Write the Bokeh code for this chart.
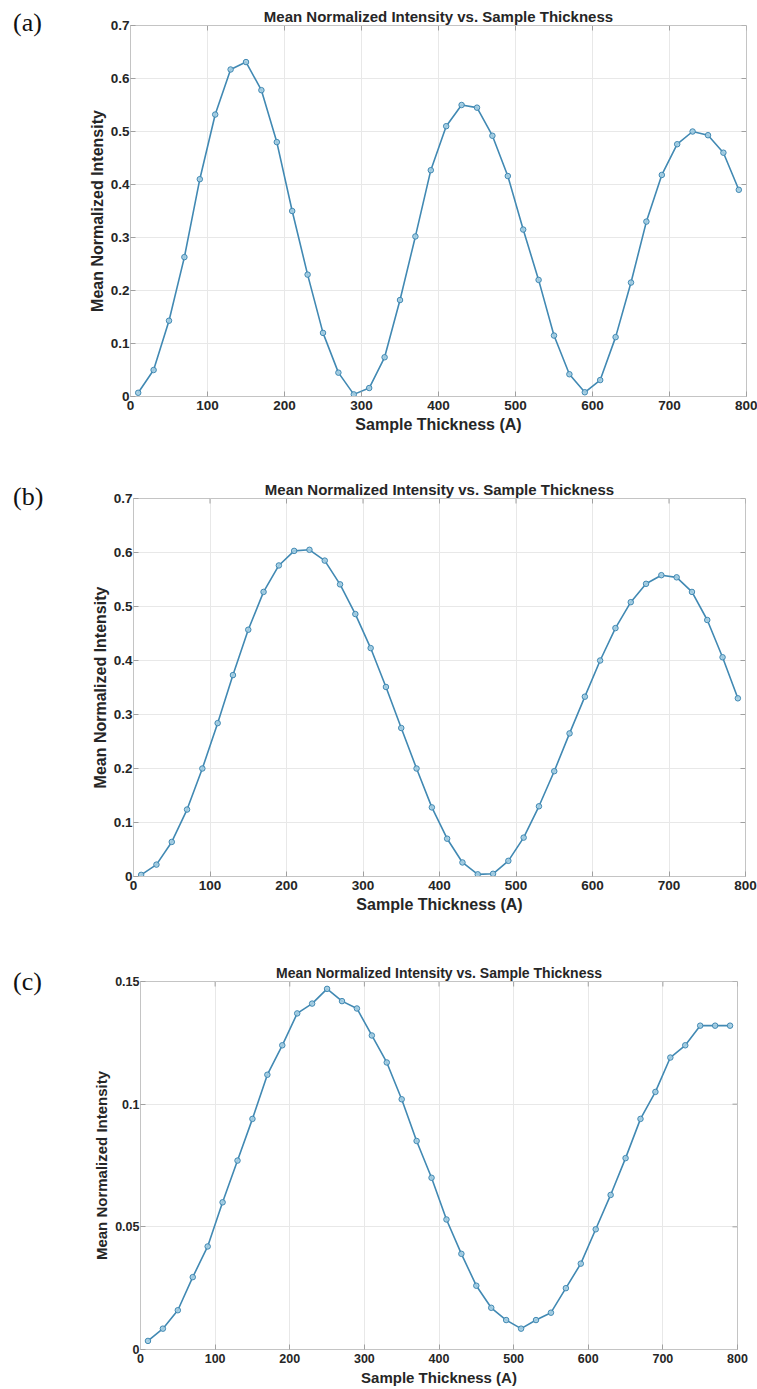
import math
from bokeh.plotting import figure
from bokeh.layouts import row
from bokeh.models import FixedTicker, Range1d, CustomJSTickFormatter, Div
from bokeh.embed import file_html
from bokeh.resources import INLINE

# ---------------- data ----------------
thickness = [10, 30, 50, 70, 90, 110, 130, 150, 170, 190,
             210, 230, 250, 270, 290, 310, 330, 350, 370, 390,
             410, 430, 450, 470, 490, 510, 530, 550, 570, 590,
             610, 630, 650, 670, 690, 710, 730, 750, 770, 790]

intensity_a = [0.007, 0.050, 0.143, 0.263, 0.410, 0.532, 0.617, 0.631, 0.578, 0.480,
               0.350, 0.230, 0.120, 0.045, 0.004, 0.016, 0.074, 0.182, 0.302, 0.427,
               0.510, 0.550, 0.545, 0.492, 0.416, 0.315, 0.220, 0.115, 0.042, 0.008,
               0.031, 0.112, 0.215, 0.330, 0.418, 0.476, 0.500, 0.493, 0.460, 0.390]

intensity_b = [0.003, 0.022, 0.064, 0.124, 0.200, 0.284, 0.373, 0.457, 0.527, 0.576,
               0.603, 0.605, 0.585, 0.541, 0.486, 0.423, 0.351, 0.275, 0.200, 0.128,
               0.070, 0.026, 0.004, 0.005, 0.029, 0.072, 0.130, 0.195, 0.265, 0.333,
               0.400, 0.460, 0.508, 0.542, 0.558, 0.554, 0.527, 0.475, 0.406, 0.330]

intensity_c = [0.0035, 0.0085, 0.0160, 0.0295, 0.0420, 0.0600, 0.0770, 0.0940, 0.1120, 0.1240,
               0.1370, 0.1410, 0.1470, 0.1420, 0.1390, 0.1280, 0.1170, 0.1020, 0.0850, 0.0700,
               0.0530, 0.0390, 0.0260, 0.0170, 0.0120, 0.0085, 0.0120, 0.0150, 0.0250, 0.0350,
               0.0490, 0.0630, 0.0780, 0.0940, 0.1050, 0.1190, 0.1240, 0.1320, 0.1320, 0.1320]

x_ticks = [0, 100, 200, 300, 400, 500, 600, 700, 800]
y_ticks_ab = [0, 0.1, 0.2, 0.3, 0.4, 0.5, 0.6, 0.7]
y_ticks_c = [0, 0.05, 0.1, 0.15]

panel_labels = ["(a)", "(b)", "(c)"]
title_text = "Mean Normalized Intensity vs. Sample Thickness"
x_label = "Sample Thickness (A)"
y_label = "Mean Normalized Intensity"

LINE = "#4189b3"
FILL = "#a3cde2"
TXT = "#262626"
FONT = "Liberation Sans"
DIV_W = 60


def make_panel(ys, yticks, ymax, plabel, height, top, bottom, left, right,
               lab_top, fs_title, fs_label, fs_tick):
    p = figure(width=757 - DIV_W, height=height, output_backend="svg",
               toolbar_location=None, min_border_top=top,
               min_border_bottom=bottom, min_border_left=left - DIV_W,
               min_border_right=right, margin=(0, 0, 0, 0),
               x_range=Range1d(0, 800), y_range=Range1d(0, ymax))
    p.title.text = title_text
    p.title.align = "center"
    p.title.text_font = FONT
    p.title.text_font_size = fs_title
    p.title.text_font_style = "bold"
    p.title.text_color = TXT
    p.title.standoff = 1
    p.background_fill_color = "white"
    p.border_fill_color = "white"
    p.outline_line_color = "#c4c4c4"
    p.outline_line_width = 1

    fmt = CustomJSTickFormatter(code="return String(Number(tick.toFixed(4)));")

    for ax, ticks in ((p.xaxis[0], x_ticks), (p.yaxis[0], yticks)):
        ax.ticker = FixedTicker(ticks=ticks)
        ax.formatter = fmt
        ax.major_tick_in = 5
        ax.major_tick_out = 0
        ax.minor_tick_in = 0
        ax.minor_tick_out = 0
        ax.axis_line_color = "#c4c4c4"
        ax.major_tick_line_color = "#a0a0a0"
        ax.major_label_text_font = FONT
        ax.major_label_text_font_size = fs_tick
        ax.major_label_text_font_style = "bold"
        ax.major_label_text_color = TXT
        ax.axis_label_text_font = FONT
        ax.axis_label_text_font_size = fs_label
        ax.axis_label_text_font_style = "bold"
        ax.axis_label_text_color = TXT
    p.xaxis[0].axis_label = x_label
    p.yaxis[0].axis_label = y_label
    p.xaxis[0].major_label_standoff = 4
    p.xaxis[0].axis_label_standoff = 3
    p.yaxis[0].major_label_standoff = 1
    p.yaxis[0].axis_label_standoff = 2

    p.xgrid.ticker = FixedTicker(ticks=x_ticks)
    p.ygrid.ticker = FixedTicker(ticks=yticks)
    p.grid.grid_line_color = "#e8e8e8"
    p.grid.grid_line_width = 1

    # tick marks on the top and right edges of the box (MATLAB style)
    p.ray(x=x_ticks, y=[ymax] * len(x_ticks), length=5, length_units="screen",
          angle=-math.pi / 2, line_color="#a0a0a0", line_width=1)
    p.ray(x=[800] * len(yticks), y=yticks, length=5, length_units="screen",
          angle=math.pi, line_color="#a0a0a0", line_width=1)

    p.line(thickness, ys, line_color=LINE, line_width=1.6)
    p.scatter(thickness, ys, marker="circle", size=5.5, fill_color=FILL,
              fill_alpha=0.9, line_color=LINE, line_width=1)

    html = ('<div style="position:absolute; left:13px; top:%dpx; '
            'font-family:\'Liberation Serif\'; font-size:26px; line-height:30px; '
            'color:#111111; white-space:nowrap;">%s</div>' % (lab_top, plabel))
    div = Div(text=html, width=DIV_W, height=height, margin=(0, 0, 0, 0))
    return row(div, p, spacing=0, margin=(0, 0, 0, 0))


ra = make_panel(intensity_a, y_ticks_ab, 0.7, panel_labels[0],
                450, 25, 54, 130, 11, 8, "15px", "16px", "13.5px")
rb = make_panel(intensity_b, y_ticks_ab, 0.7, panel_labels[1],
                475, 48, 49, 133, 12, 32, "15px", "16px", "13.5px")
rc = make_panel(intensity_c, y_ticks_c, 0.15, panel_labels[2],
                464, 56, 40, 140, 20, 42, "14px", "15px", "12.5px")

open("out.html", "w").write(file_html([ra, rb, rc], INLINE))
